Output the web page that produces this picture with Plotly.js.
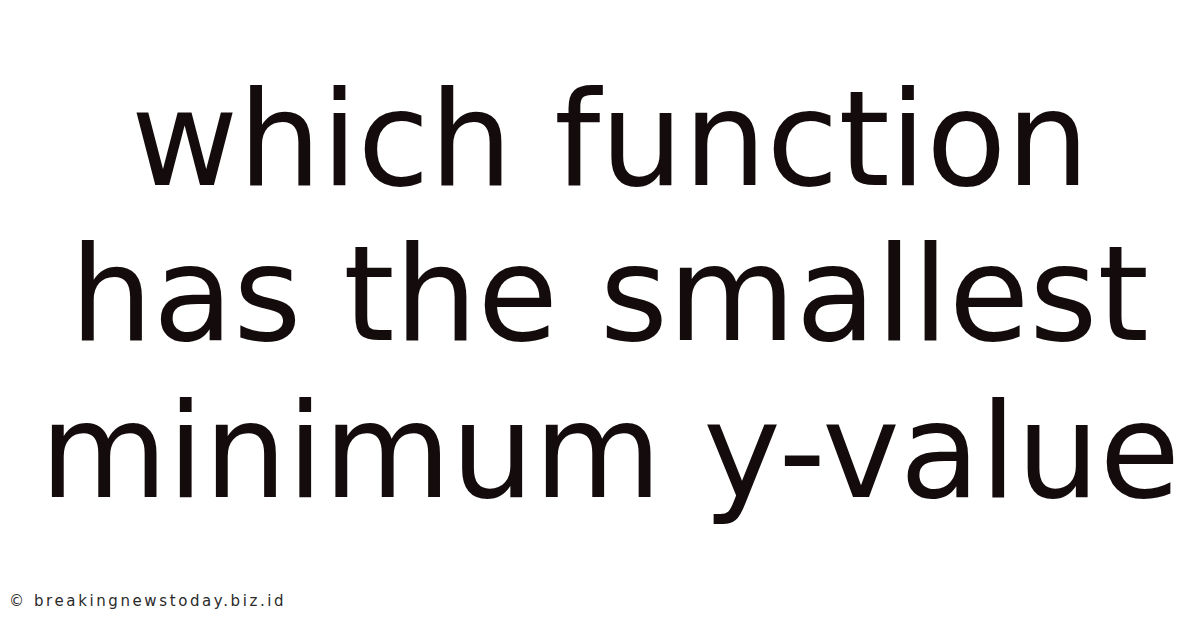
<!DOCTYPE html>
<html>
<head>
<meta charset="utf-8">
<script src="https://cdn.plot.ly/plotly-3.0.1.min.js"></script>
<style>
html,body{margin:0;padding:0;background:#fff;}
#chart{width:1200px;height:628px;}
#chart g.annotation[data-index="3"] text{letter-spacing:2.6px;}
</style>
</head>
<body>
<div id="chart"></div>
<script>
const titleLines = ["which function", "has the smallest", "minimum y-value"];
const lineCenters = [139, 294, 451];
const watermark = "© breakingnewstoday.biz.id";

const H = 628;
const annotations = titleLines.map((t, i) => ({
  text: t, xref: 'paper', yref: 'paper', x: 0.508, y: 1 - lineCenters[i] / H,
  xanchor: 'center', yanchor: 'middle', showarrow: false,
  font: {family: 'DejaVu Sans', size: 131, color: '#140c0c'}
}));
annotations.push({
  text: watermark, xref: 'paper', yref: 'paper', x: 7 / 1200, y: 1 - 601 / H,
  xanchor: 'left', yanchor: 'middle', align: 'left', showarrow: false,
  font: {family: 'DejaVu Sans', size: 15, color: '#2a2a2a'}
});

Plotly.newPlot('chart', [], {
  width: 1200, height: 628,
  margin: {l: 0, r: 0, t: 0, b: 0},
  paper_bgcolor: '#ffffff', plot_bgcolor: '#ffffff',
  xaxis: {visible: false}, yaxis: {visible: false},
  showlegend: false,
  annotations: annotations
}, {displayModeBar: false, staticPlot: true});
</script>
</body>
</html>
